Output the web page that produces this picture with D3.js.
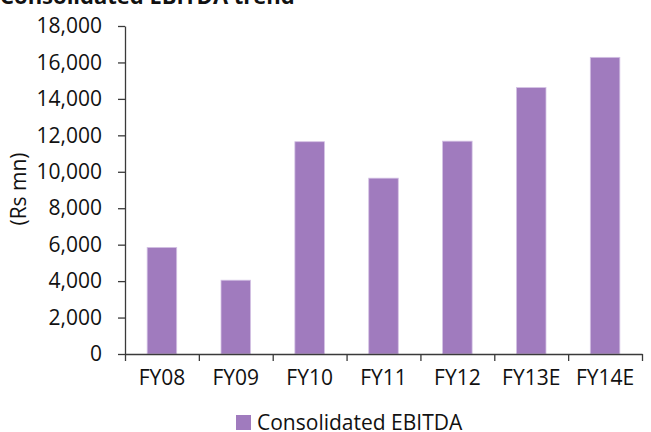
<!DOCTYPE html>
<html>
<head>
<meta charset="utf-8">
<script src="https://cdn.jsdelivr.net/npm/d3@7"></script>
<style>
  html, body { margin: 0; padding: 0; background: #fff; }
  svg { display: block; }
  text { font-family: "Open Sans", "Liberation Sans", sans-serif; fill: #111; }
</style>
</head>
<body>
<svg id="chart" width="651" height="432"></svg>
<script>
// Consolidated EBITDA, Rs mn
const categories = ["FY08", "FY09", "FY10", "FY11", "FY12", "FY13E", "FY14E"];
const ebitda = [5850, 4050, 11650, 9650, 11680, 14620, 16280];
const yTicks = [0, 2000, 4000, 6000, 8000, 10000, 12000, 14000, 16000, 18000];
const seriesName = "Consolidated EBITDA";
const chartTitle = "Consolidated EBITDA trend";
const yTitle = "(Rs mn)";

const svg = d3.select("#chart");
const plotLeft = 125, plotRight = 642, plotTop = 26, plotBottom = 354;
const axisColor = "#3a3a3a";
const barColor = "#a07bbe";
const fontSize = 21;

const x = d3.scaleBand().domain(categories).range([plotLeft, plotRight])
  .paddingInner(0.6).paddingOuter(0.3);
const y = d3.scaleLinear().domain([0, 18000]).range([plotBottom, plotTop]);
const xEdges = d3.scaleLinear().domain([0, categories.length]).range([plotLeft, plotRight]);

// title, mostly above the visible area
svg.append("text").attr("x", 0).attr("y", 3.5)
  .attr("font-size", 22).attr("font-weight", "bold")
  .text(chartTitle);

// bars
svg.append("g").selectAll("rect").data(ebitda).join("rect")
  .attr("x", (d, i) => x(categories[i]))
  .attr("width", x.bandwidth())
  .attr("y", d => y(d))
  .attr("height", d => y(0) - y(d))
  .attr("fill", barColor)
  .attr("stroke", "#d4c2e4")
  .attr("stroke-width", 0.8);

// y axis
const yAxis = svg.append("g").attr("transform", `translate(${plotLeft},0)`)
  .call(d3.axisLeft(y).tickValues(yTicks).tickFormat(d3.format(",")).tickSize(7).tickSizeOuter(0).tickPadding(16));
yAxis.select(".domain").attr("stroke", axisColor).attr("stroke-width", 1.3);
yAxis.selectAll(".tick line").attr("stroke", axisColor).attr("stroke-width", 1.3);
yAxis.selectAll(".tick text").attr("font-size", fontSize).attr("fill", "#111")
  .attr("font-family", "'Open Sans', sans-serif");

// x axis: tick marks at category boundaries
const xAxisTicks = svg.append("g").attr("transform", `translate(0,${plotBottom})`)
  .call(d3.axisBottom(xEdges).tickValues(d3.range(categories.length + 1)).tickFormat("").tickSize(7).tickSizeOuter(0));
xAxisTicks.select(".domain").attr("stroke", axisColor).attr("stroke-width", 1.3);
xAxisTicks.selectAll(".tick line").attr("stroke", axisColor).attr("stroke-width", 1.3);

// x axis: category labels
const xAxisLabels = svg.append("g").attr("transform", `translate(0,${plotBottom})`)
  .call(d3.axisBottom(x).tickSize(0).tickPadding(16));
xAxisLabels.select(".domain").remove();
xAxisLabels.selectAll(".tick text").attr("font-size", fontSize).attr("fill", "#111")
  .attr("font-family", "'Open Sans', sans-serif");

// y axis title
svg.append("text")
  .attr("transform", "translate(26,189) rotate(-90)")
  .attr("text-anchor", "middle")
  .attr("font-size", fontSize)
  .text(yTitle);

// legend
const legend = svg.append("g").attr("transform", "translate(236,415)");
legend.append("rect").attr("width", 15).attr("height", 15).attr("fill", barColor);
legend.append("text").attr("x", 21).attr("y", 14.5).attr("font-size", fontSize).text(seriesName);
</script>
</body>
</html>
